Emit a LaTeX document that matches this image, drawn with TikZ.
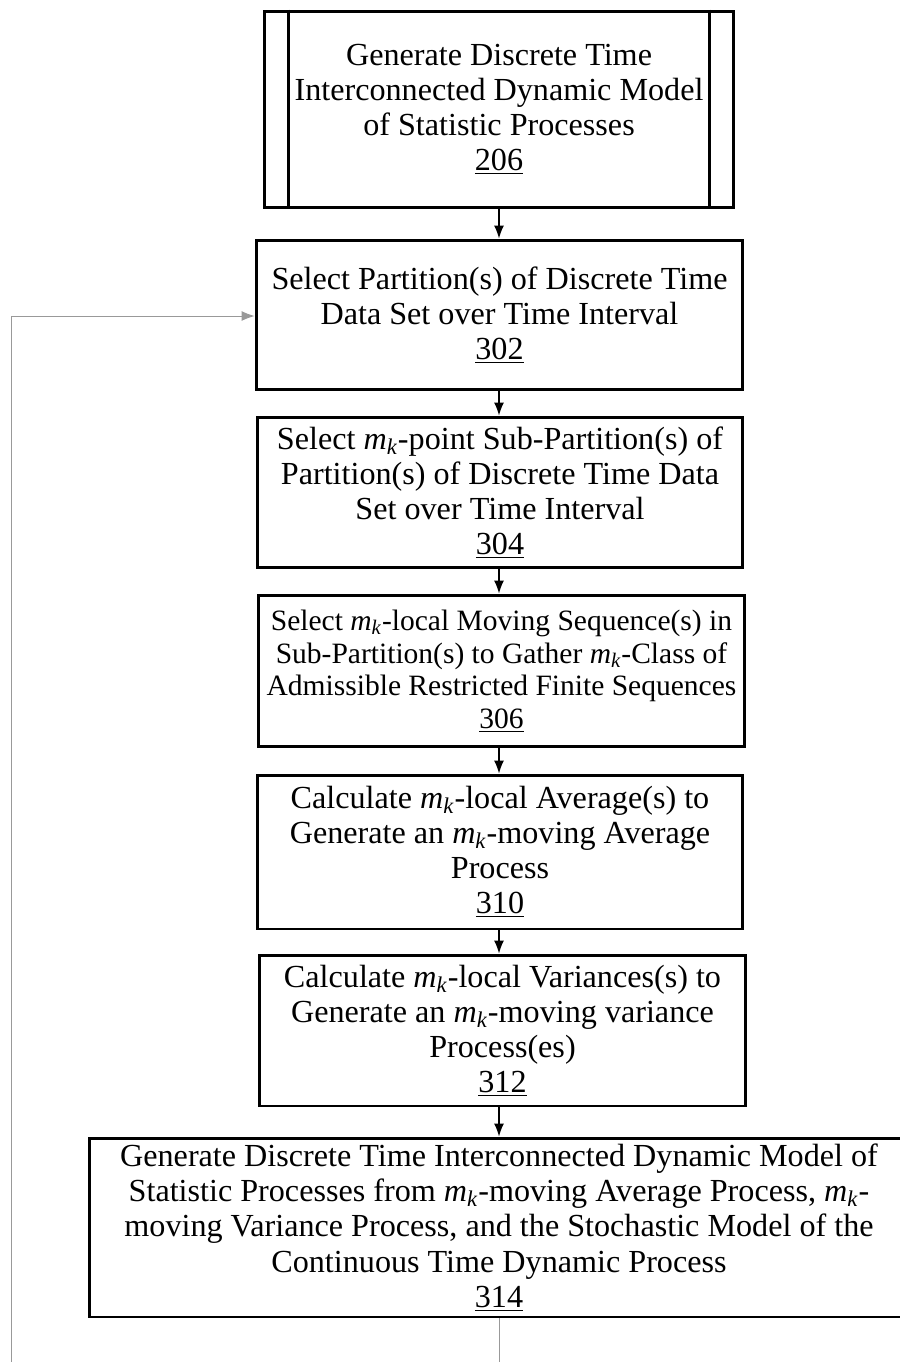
\documentclass[tikz,border=0pt]{standalone}
\usepackage{fontspec}
\setmainfont{Liberation Serif}
\usepackage{tikz}
\usetikzlibrary{arrows.meta, positioning, calc}

\newcommand{\mk}{\textit{m}\textsubscript{\textit{k}}}

\begin{document}
\begin{tikzpicture}[
  x=0.02cm, y=-0.02cm,
  procbox/.style={
    rectangle, draw=black, line width=1.7pt,
    align=center, inner sep=0pt,
    font=\fontsize{18.3}{20}\selectfont},
  predbox/.style={procbox},
  arrowmain/.style={-{Latex[length=0.26cm, width=0.2cm]}, line width=0.8pt, draw=black},
  arrowback/.style={-{Latex[length=0.26cm, width=0.2cm]}, line width=0.5pt, draw=gray!80},
]
\useasboundingbox (0,0) rectangle (899,1362);

%% ---- Main flow (vertical) ----
\node[predbox, minimum width=9.38cm, minimum height=3.94cm] (p206) at (499, 109.5) {%
  Generate Discrete Time\\
  Interconnected Dynamic Model\\
  of Statistic Processes\\
  \underline{206}};
\draw[line width=1.7pt] ([xshift=0.5cm]p206.north west) -- ([xshift=0.5cm]p206.south west);
\draw[line width=1.7pt] ([xshift=-0.5cm]p206.north east) -- ([xshift=-0.5cm]p206.south east);

\node[procbox, minimum width=9.74cm, minimum height=3.0cm] (p302) at (499.5, 315) {%
  Select Partition(s) of Discrete Time\\
  Data Set over Time Interval\\
  \underline{302}};

\node[procbox, minimum width=9.72cm, minimum height=3.02cm] (p304) at (500, 492.5) {%
  Select \mk-point Sub-Partition(s) of\\
  Partition(s) of Discrete Time Data\\
  Set over Time Interval\\
  \underline{304}};

\node[procbox, font=\fontsize{16.8}{18.6}\selectfont,
  minimum width=9.74cm, minimum height=3.04cm] (p306) at (501.5, 671) {%
  Select \mk-local Moving Sequence(s) in\\
  Sub-Partition(s) to Gather \mk-Class of\\
  Admissible Restricted Finite Sequences\\
  \underline{306}};

\node[procbox, minimum width=9.72cm, minimum height=3.08cm] (p310) at (500, 852) {%
  Calculate \mk-local Average(s) to\\
  Generate an \mk-moving Average\\
  Process\\
  \underline{310}};

\node[procbox, minimum width=9.74cm, minimum height=3.02cm] (p312) at (502.5, 1030.5) {%
  Calculate \mk-local Variances(s) to\\
  Generate an \mk-moving variance\\
  Process(es)\\
  \underline{312}};

\node[procbox, minimum width=16.4cm, minimum height=3.58cm] (p314) at (499, 1227.5) {%
  Generate Discrete Time Interconnected Dynamic Model of\\
  Statistic Processes from \mk-moving Average Process, \mk-\\
  moving Variance Process, and the Stochastic Model of the\\
  Continuous Time Dynamic Process\\
  \underline{314}};

%% ---- Arrows ----
\draw[arrowmain] (p206.south -| 499,0) -- (p302.north -| 499,0);
\draw[arrowmain] (p302.south -| 499,0) -- (p304.north -| 499,0);
\draw[arrowmain] (p304.south -| 499,0) -- (p306.north -| 499,0);
\draw[arrowmain] (p306.south -| 499,0) -- (p310.north -| 499,0);
\draw[arrowmain] (p310.south -| 499,0) -- (p312.north -| 499,0);
\draw[arrowmain] (p312.south -| 499,0) -- (p314.north -| 499,0);

%% ---- Loop back (runs below the page edge) ----
\coordinate (loopin) at (11, 316);
\draw[arrowback] (p314.south -| 499,0) -- (499, 1400) -- (11, 1400) -- (loopin) -- (p302.west |- loopin);

\end{tikzpicture}
\end{document}
